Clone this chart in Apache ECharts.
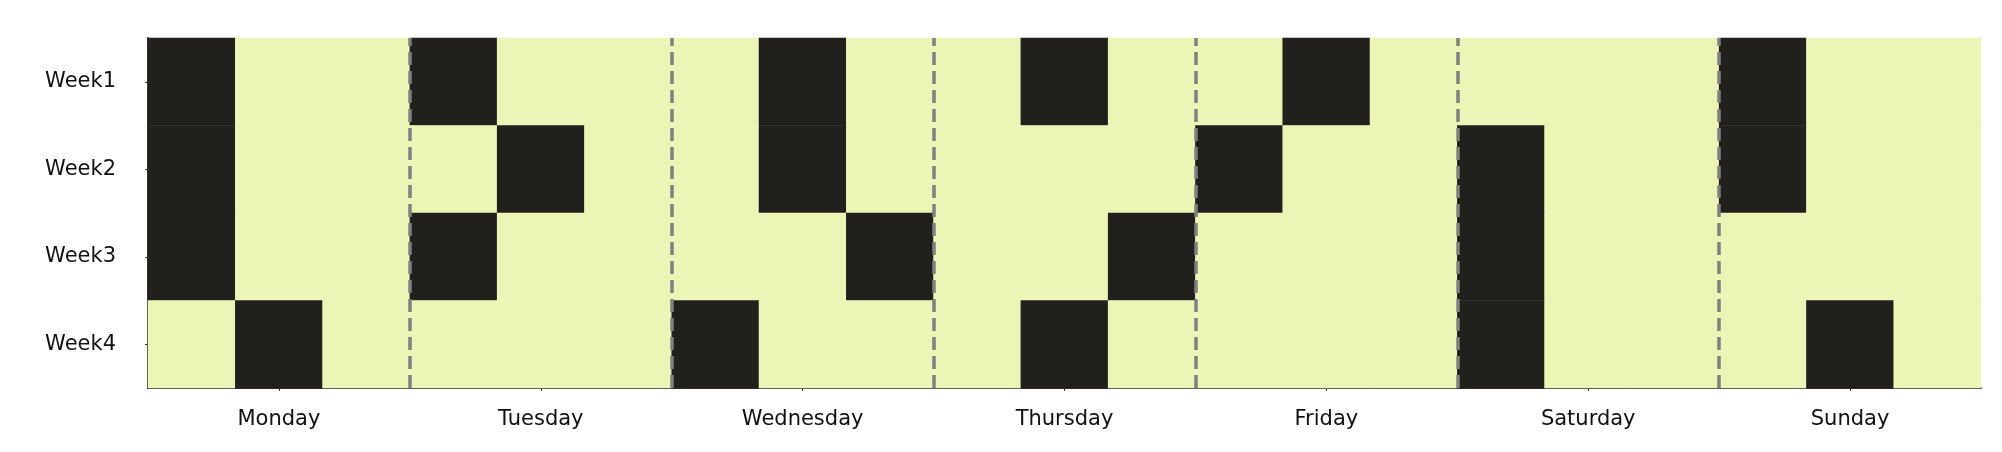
<!DOCTYPE html>
<html><head><meta charset="utf-8">
<script src="https://cdn.jsdelivr.net/npm/echarts@6/dist/echarts.min.js"></script>
<style>html,body{margin:0;padding:0;background:#fff}#c{width:2002px;height:452px}</style>
</head><body><div id="c"></div>
<script>
const days = ['Monday','Tuesday','Wednesday','Thursday','Friday','Saturday','Sunday'];
const weeks = ['Week1','Week2','Week3','Week4'];
const slotsPerDay = 3;
// rows = weeks, columns = 21 sub-slots (1 = dark, 0 = light)
const week1 = [1,0,0, 1,0,0, 0,1,0, 0,1,0, 0,1,0, 0,0,0, 1,0,0];
const week2 = [1,0,0, 0,1,0, 0,1,0, 0,0,0, 1,0,0, 1,0,0, 1,0,0];
const week3 = [1,0,0, 1,0,0, 0,0,1, 0,0,1, 0,0,0, 1,0,0, 0,0,0];
const week4 = [0,1,0, 0,0,0, 1,0,0, 0,1,0, 0,0,0, 1,0,0, 0,1,0];
const rows = [week1, week2, week3, week4];
const dayBoundaries = [3,6,9,12,15,18];

const cols = [];
for (let i = 0; i < days.length * slotsPerDay; i++) cols.push(String(i));
const data = [];
rows.forEach((r, y) => r.forEach((v, x) => data.push([x, y, v])));

const chart = echarts.init(document.getElementById('c'));
chart.setOption({
  animation: false,
  grid: { left: 148, right: 21, top: 38, bottom: 64 },
  visualMap: { show: false, type: 'piecewise', dimension: 2,
    pieces: [{ value: 0, color: '#ebf5b6' }, { value: 1, color: '#22201c' }] },
  xAxis: [{
    type: 'category', data: cols, position: 'bottom',
    axisLine: { show: true, lineStyle: { color: '#333', width: 2 } },
    axisTick: { show: true, alignWithLabel: true, length: 3, lineStyle: { color: '#333' },
      interval: (i) => i % slotsPerDay === 1 },
    axisLabel: { interval: 0, margin: 21, color: '#111', fontFamily: 'DejaVu Sans', fontSize: 21,
      formatter: (v, i) => (i % slotsPerDay === 1 ? days[Math.floor(i / slotsPerDay)] : '') },
    splitLine: { show: false }
  }, {
    type: 'value', min: 0, max: cols.length, show: false
  }],
  yAxis: [{
    type: 'category', data: weeks, inverse: true,
    axisLine: { show: true, lineStyle: { color: '#333', width: 2 } },
    axisTick: { show: true, alignWithLabel: true, length: 3, lineStyle: { color: '#333' } },
    axisLabel: { margin: 32, color: '#111', fontFamily: 'DejaVu Sans', fontSize: 21, padding: [4, 0, 0, 0] },
    splitLine: { show: false }
  }, {
    type: 'value', min: 0, max: 1, show: false
  }],
  series: [{
    type: 'heatmap', data: data,
    itemStyle: { borderWidth: 0 },
    emphasis: { disabled: true }
  }, {
    type: 'scatter', xAxisIndex: 1, yAxisIndex: 1, data: [], symbolSize: 0,
    markLine: {
      silent: true, symbol: 'none', label: { show: false },
      lineStyle: { color: '#808080', type: [13, 6], width: 3.5 },
      data: dayBoundaries.map(b => ({ xAxis: b }))
    }
  }]
});
</script></body></html>
